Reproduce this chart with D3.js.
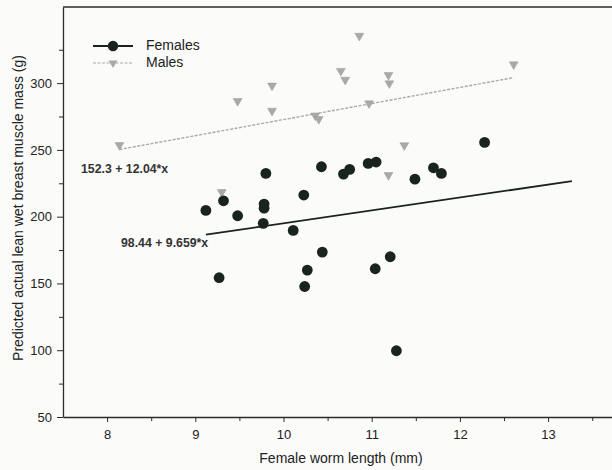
<!DOCTYPE html>
<html>
<head>
<meta charset="utf-8">
<script src="https://cdn.jsdelivr.net/npm/d3@7"></script>
<style>
  html, body { margin: 0; padding: 0; background: #fbfbfa; }
  svg { display: block; }
  text { font-family: Arial, "Liberation Sans", sans-serif; }
</style>
</head>
<body>
<svg id="chart" width="612" height="470"></svg>
<script>
// Female worm length (mm) vs predicted lean wet breast muscle mass (g)
const femaleX = [9.12, 9.27, 9.32, 9.48, 9.77, 9.78, 9.78, 9.80, 10.11, 10.23, 10.24, 10.27, 10.43,
                 10.44, 10.68, 10.75, 10.96, 11.05, 11.04, 11.21, 11.28, 11.49, 11.70, 11.79, 12.28];
const femaleY = [204.7, 154.3, 211.9, 200.7, 195.0, 209.4, 206.4, 232.4, 189.7, 216.2, 147.7, 160.0, 237.4,
                 173.5, 231.9, 235.4, 239.9, 240.9, 161.0, 170.0, 99.6, 228.1, 236.6, 232.4, 255.6];

const maleX = [8.14, 9.30, 9.48, 9.87, 9.87, 10.36, 10.40, 10.65, 10.70, 10.86, 10.97,
               11.19, 11.20, 11.37, 11.19, 12.61];
const maleY = [253.6, 218.4, 286.5, 298.1, 279.3, 275.7, 273.1, 309.1, 302.5, 335.4, 284.8,
               306.0, 299.8, 253.4, 231.1, 314.0];

// Fitted lines: intercept, slope and the x span each is drawn over
const femaleFit = { a: 98.44, b: 9.659, from: 9.12, to: 13.27, label: "98.44 + 9.659*x" };
const maleFit   = { a: 152.3, b: 12.04, from: 8.14, to: 12.61, label: "152.3 + 12.04*x" };

const xTicks = [8, 9, 10, 11, 12, 13];
const xMinorTicks = [8.5, 9.5, 10.5, 11.5, 12.5, 13.5];
const yTicks = [50, 100, 150, 200, 250, 300];
const yMinorTicks = [75, 125, 175, 225, 275, 325];

const seriesNames = ["Females", "Males"];
const xTitle = "Female worm length (mm)";
const yTitle = "Predicted actual lean wet breast muscle mass (g)";

const svg = d3.select("#chart");
const plotLeft = 63, plotTop = 7, plotBottom = 417;

const x = d3.scaleLinear().domain([7.5, 14]).range([plotLeft, plotLeft + 6.5 * 88.2]);
const y = d3.scaleLinear().domain([50, 357]).range([plotBottom, plotTop]);

const axisColor = "#2b2b2b";
const femaleColor = "#18241d";
const maleColor = "#a9a9a9";

// Frame: top edge
svg.append("line")
  .attr("x1", plotLeft).attr("x2", x(14)).attr("y1", plotTop).attr("y2", plotTop)
  .attr("stroke", axisColor).attr("stroke-width", 1.3);

// X axis
const gx = svg.append("g").attr("transform", `translate(0,${plotBottom})`);
gx.call(d3.axisBottom(x).tickValues(xTicks).tickSize(5).tickSizeOuter(0).tickPadding(8).tickFormat(d3.format("d")));
gx.append("g").call(d3.axisBottom(x).tickValues(xMinorTicks).tickSize(4).tickFormat(""))
  .select(".domain").remove();
gx.selectAll(".domain").attr("stroke", axisColor).attr("stroke-width", 1.3);
gx.selectAll(".tick line").attr("stroke", axisColor);
gx.selectAll("text").attr("font-size", 13).attr("fill", "#222");

// Y axis
const gy = svg.append("g").attr("transform", `translate(${plotLeft},0)`);
gy.call(d3.axisLeft(y).tickValues(yTicks).tickSize(6).tickSizeOuter(0).tickPadding(5).tickFormat(d3.format("d")));
gy.append("g").call(d3.axisLeft(y).tickValues(yMinorTicks).tickSize(4).tickFormat(""))
  .select(".domain").remove();
gy.selectAll(".domain").attr("stroke", axisColor).attr("stroke-width", 1.3);
gy.selectAll(".tick line").attr("stroke", axisColor);
gy.selectAll("text").attr("font-size", 13).attr("fill", "#222");

// Axis titles
svg.append("text")
  .attr("x", 341).attr("y", 463).attr("text-anchor", "middle")
  .attr("font-size", 14).attr("fill", "#222").text(xTitle);
svg.append("text")
  .attr("transform", "translate(23,208) rotate(-90)").attr("text-anchor", "middle")
  .attr("font-size", 14).attr("fill", "#222").text(yTitle);

// Regression lines
const fitLine = f => [[f.from, f.a + f.b * f.from], [f.to, f.a + f.b * f.to]];
const line = d3.line().x(d => x(d[0])).y(d => y(d[1]));

svg.append("path").datum(fitLine(maleFit)).attr("d", line)
  .attr("fill", "none").attr("stroke", maleColor).attr("stroke-width", 1.4)
  .attr("stroke-dasharray", "3,1.5");
svg.append("path").datum(fitLine(femaleFit)).attr("d", line)
  .attr("fill", "none").attr("stroke", femaleColor).attr("stroke-width", 1.8);

// Male points: downward triangles
const tri = d3.symbol().type(d3.symbolTriangle).size(34);
svg.append("g").selectAll("path").data(maleX.map((v, i) => [v, maleY[i]])).join("path")
  .attr("d", tri)
  .attr("transform", d => `translate(${x(d[0])},${y(d[1])}) rotate(180)`)
  .attr("fill", maleColor).attr("stroke", "#9a9a9a").attr("stroke-width", 0.5);

// Female points: filled circles
svg.append("g").selectAll("circle").data(femaleX.map((v, i) => [v, femaleY[i]])).join("circle")
  .attr("cx", d => x(d[0])).attr("cy", d => y(d[1])).attr("r", 5.4)
  .attr("fill", femaleColor);

// Equation labels
svg.append("text").attr("x", 81).attr("y", 173).attr("font-size", 12.3)
  .attr("font-weight", "bold").attr("fill", "#333").text(maleFit.label);
svg.append("text").attr("x", 121).attr("y", 247).attr("font-size", 12.3)
  .attr("font-weight", "bold").attr("fill", "#333").text(femaleFit.label);

// Legend
const legend = svg.append("g");
legend.append("line").attr("x1", 93).attr("x2", 133).attr("y1", 46).attr("y2", 46)
  .attr("stroke", femaleColor).attr("stroke-width", 1.8);
legend.append("circle").attr("cx", 113).attr("cy", 46).attr("r", 5.2).attr("fill", femaleColor);
legend.append("line").attr("x1", 93).attr("x2", 133).attr("y1", 63).attr("y2", 63)
  .attr("stroke", maleColor).attr("stroke-width", 1.2).attr("stroke-dasharray", "3,1.5");
legend.append("path").attr("d", tri).attr("transform", "translate(113,63) rotate(180)")
  .attr("fill", maleColor);
legend.selectAll("text.lg").data(seriesNames).join("text")
  .attr("x", 146).attr("y", (d, i) => 50 + i * 17).attr("font-size", 14)
  .attr("fill", "#222").text(d => d);
</script>
</body>
</html>
